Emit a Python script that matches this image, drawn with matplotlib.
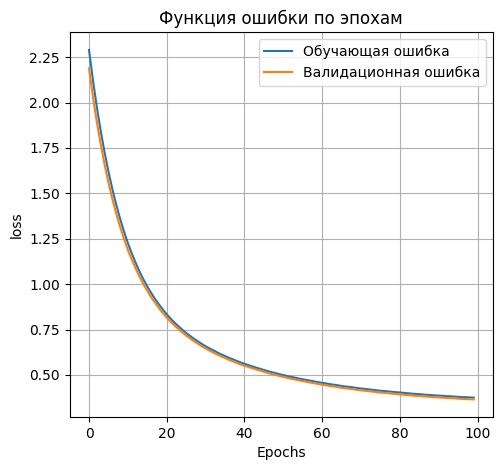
import matplotlib
matplotlib.use("Agg")
import matplotlib.pyplot as plt

epochs = list(range(100))

train_loss = [
    2.290, 2.125, 1.977, 1.845, 1.726, 1.620, 1.524, 1.438, 1.360, 1.290,
    1.226, 1.169, 1.117, 1.069, 1.026, 0.987, 0.951, 0.918, 0.888, 0.860,
    0.834, 0.810, 0.788, 0.768, 0.749, 0.731, 0.715, 0.699, 0.685, 0.671,
    0.658, 0.646, 0.635, 0.624, 0.613, 0.604, 0.594, 0.586, 0.577, 0.569,
    0.561, 0.554, 0.547, 0.540, 0.534, 0.527, 0.521, 0.515, 0.510, 0.504,
    0.499, 0.494, 0.489, 0.485, 0.480, 0.476, 0.472, 0.468, 0.464, 0.460,
    0.456, 0.453, 0.449, 0.446, 0.443, 0.439, 0.436, 0.434, 0.431, 0.428,
    0.425, 0.423, 0.420, 0.418, 0.415, 0.413, 0.411, 0.409, 0.407, 0.405,
    0.403, 0.401, 0.399, 0.397, 0.395, 0.394, 0.392, 0.390, 0.389, 0.387,
    0.386, 0.385, 0.383, 0.382, 0.381, 0.379, 0.378, 0.377, 0.376, 0.375,
]

val_loss = [
    2.188, 2.034, 1.895, 1.772, 1.660, 1.560, 1.470, 1.389, 1.316, 1.250,
    1.189, 1.135, 1.086, 1.041, 1.000, 0.963, 0.928, 0.897, 0.868, 0.841,
    0.816, 0.793, 0.772, 0.753, 0.734, 0.717, 0.701, 0.686, 0.672, 0.658,
    0.646, 0.634, 0.623, 0.612, 0.602, 0.593, 0.583, 0.575, 0.566, 0.558,
    0.550, 0.544, 0.537, 0.530, 0.524, 0.517, 0.511, 0.505, 0.500, 0.494,
    0.489, 0.484, 0.479, 0.475, 0.470, 0.466, 0.462, 0.458, 0.454, 0.450,
    0.446, 0.443, 0.439, 0.436, 0.433, 0.429, 0.426, 0.424, 0.421, 0.418,
    0.415, 0.413, 0.410, 0.408, 0.405, 0.403, 0.401, 0.399, 0.397, 0.395,
    0.393, 0.391, 0.389, 0.387, 0.385, 0.384, 0.382, 0.380, 0.379, 0.377,
    0.376, 0.375, 0.373, 0.372, 0.371, 0.369, 0.368, 0.367, 0.366, 0.365,
]

fig, ax = plt.subplots(figsize=(5.02, 4.70), dpi=100)
fig.subplots_adjust(left=0.139, right=0.982, top=0.931, bottom=0.113)

ax.plot(epochs, train_loss, label="Обучающая ошибка")
ax.plot(epochs, val_loss, label="Валидационная ошибка")
ax.set_title("Функция ошибки по эпохам")
ax.set_xlabel("Epochs")
ax.set_ylabel("loss")
ax.grid(True)
ax.legend()

fig.savefig("out.png", dpi=100)
